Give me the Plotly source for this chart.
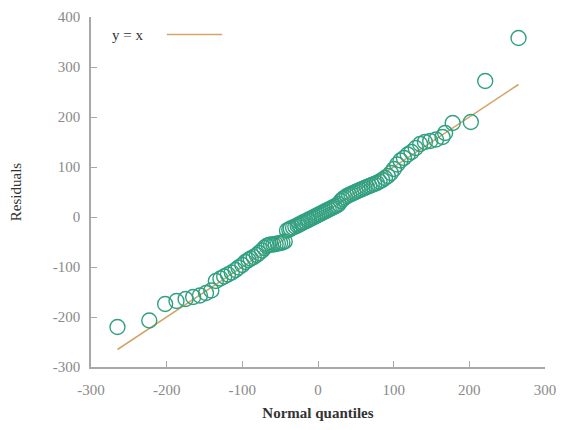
import plotly.graph_objects as go

# Normal quantiles (x) and residuals (y)
quantiles = [
    -265, -223, -202, -187, -175, -165, -156, -148, -141, -135,
    -129, -124, -119, -114, -109, -105, -100, -96, -92, -89,
    -85, -81, -78, -74, -71, -68, -65, -62, -59, -56,
    -53, -50, -47, -44, -41, -38, -36, -33, -30, -27,
    -25, -22, -20, -17, -14, -12, -9, -6.5, -3.9, -1.3,
    1.3, 3.9, 6.5, 9.0, 11.6, 14.2, 16.9, 19.5, 22.1, 24.8,
    27.4, 30.1, 32.8, 35.5, 38.3, 41.1, 43.9, 46.7, 49.6, 52.5,
    55.5, 58.5, 61.6, 64.7, 67.9, 71.1, 74.4, 77.8, 81.3, 84.9,
    88.5, 92.3, 96.3, 100.3, 104.6, 109.0, 113.6, 118.5, 123.6, 129.1,
    135.0, 141.3, 148.3, 156.0, 164.6, 168, 178, 202, 221, 265,
]
residuals = [
    -220, -207, -174, -168, -164, -160, -157, -152, -147, -128,
    -123, -119, -115, -111, -106, -101, -96, -90, -86, -83,
    -80, -76, -72, -67, -62, -58, -56, -55, -55, -54,
    -53, -52, -51, -49, -27, -25, -23, -21, -19, -17,
    -15, -13, -11, -9, -7, -5, -3, -1, 1, 3,
    5, 7, 9, 11, 13, 15, 17, 19, 21, 23,
    26, 32, 36, 39, 42, 44, 46, 48, 50, 52,
    54, 56, 58, 60, 62, 64, 66, 68, 71, 74,
    78, 82, 88, 96, 105, 113, 118, 125, 130, 138,
    146, 150, 152, 155, 160, 168, 188, 190, 272, 358,
]
ref_x = [-265, 265]
ref_y = [-265, 265]

x_ticks = [-300, -200, -100, 0, 100, 200, 300]
x_tick_labels = ["-300", "-200", "-100", "0", "100", "200", "300"]
y_ticks = [-300, -200, -100, 0, 100, 200, 300, 400]
y_tick_labels = ["-300", "-200", "-100", "0", "100", "200", "300", "400"]

fig = go.Figure()
fig.add_trace(go.Scatter(
    x=ref_x, y=ref_y, mode="lines",
    line=dict(color="#d4a468", width=1.5),
    showlegend=False,
))
fig.add_trace(go.Scatter(
    x=quantiles, y=residuals, mode="markers",
    marker=dict(symbol="circle-open", size=15,
                line=dict(color="#32a080", width=1.4), color="#32a080"),
    showlegend=False,
))

font_family = "Liberation Serif, Times New Roman, serif"
axis_common = dict(
    showgrid=False, zeroline=False, showline=True,
    linecolor="#a8a8a8", linewidth=1.5,
    ticks="inside", ticklen=6, tickcolor="#a8a8a8", tickwidth=1,
    tickfont=dict(family=font_family, size=15, color="#8a8a8a"),
    mirror=False, automargin=False, ticklabeloverflow="allow",
)
fig.update_xaxes(range=[-300, 300], tickvals=x_ticks, ticktext=x_tick_labels,
                 ticklabelstandoff=8, **axis_common,
                 title=dict(text="<b>Normal quantiles</b>",
                            font=dict(family=font_family, size=15, color="#333333"),
                            standoff=11))
fig.update_yaxes(range=[-300, 400], tickvals=y_ticks, ticktext=y_tick_labels,
                 ticklabelstandoff=6, **axis_common,
                 title=dict(text="Residuals",
                            font=dict(family=font_family, size=15, color="#333333"),
                            standoff=34))

# legend sample (text then line), placed in paper coordinates
fig.add_annotation(xref="paper", yref="paper", x=0.042, y=0.95,
                   text="y = x", showarrow=False, xanchor="left", yanchor="middle",
                   font=dict(family=font_family, size=15, color="#333333"))
fig.add_shape(type="line", xref="paper", yref="paper",
              x0=0.167, x1=0.289, y0=0.95, y1=0.95,
              line=dict(color="#d4a468", width=1.5))

fig.update_layout(
    width=548, height=414,
    margin=dict(l=83, r=11, t=9, b=55),
    paper_bgcolor="white", plot_bgcolor="white",
)
fig.write_html("out.html")
